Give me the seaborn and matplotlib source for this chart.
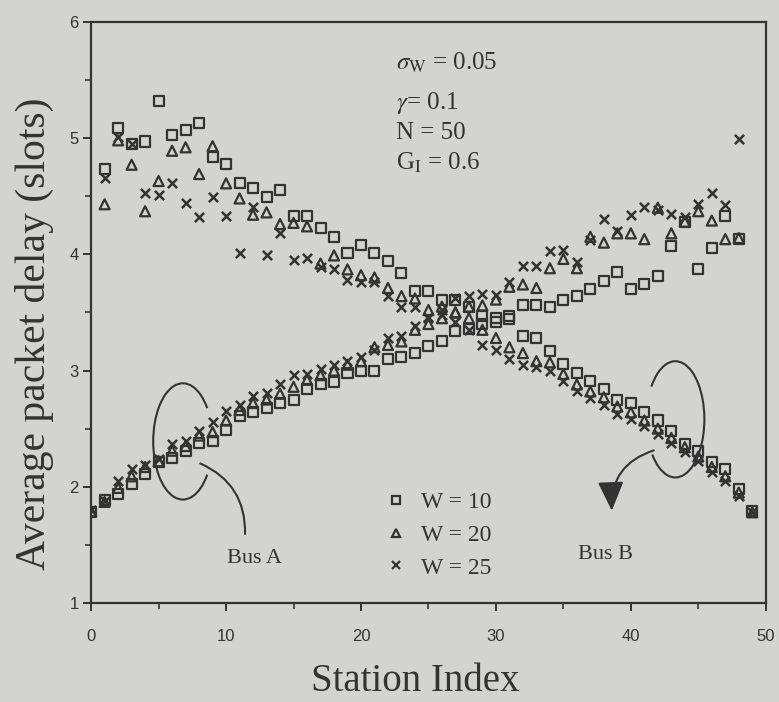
import pandas as pd
import seaborn as sns
import matplotlib.pyplot as plt
from matplotlib.patches import Arc, FancyArrowPatch
from matplotlib.lines import Line2D
from matplotlib.ticker import MultipleLocator

# station indices for the two buses
stations_a = list(range(0, 49))
stations_b = list(range(1, 50))

# Bus A (delay rising with station index)
a_w10 = [1.78, 1.89, 1.94, 2.02, 2.11, 2.21, 2.25, 2.31, 2.38, 2.39,
         2.49, 2.61, 2.64, 2.68, 2.72, 2.75, 2.84, 2.88, 2.90, 2.98,
         3.00, 3.00, 3.10, 3.12, 3.15, 3.21, 3.25, 3.34, 3.36, 3.40,
         3.42, 3.47, 3.56, 3.56, 3.55, 3.61, 3.64, 3.70, 3.77, 3.85,
         3.70, 3.74, 3.81, 4.07, 4.28, 3.87, 4.05, 4.33, 4.13]
a_w20 = [1.79, 1.87, 1.99, 2.09, 2.17, 2.22, 2.31, 2.35, 2.44, 2.47,
         2.57, 2.66, 2.72, 2.75, 2.80, 2.86, 2.92, 2.96, 3.00, 3.05,
         3.08, 3.20, 3.22, 3.25, 3.35, 3.40, 3.45, 3.50, 3.55, 3.56,
         3.61, 3.72, 3.74, 3.71, 3.88, 3.96, 3.88, 4.15, 4.10, 4.18,
         4.18, 4.13, 4.40, 4.18, 4.28, 4.37, 4.29, 4.13, 4.14]
a_w25 = [1.80, 1.88, 2.05, 2.15, 2.19, 2.24, 2.37, 2.39, 2.48, 2.56,
         2.65, 2.70, 2.78, 2.81, 2.88, 2.96, 2.97, 3.01, 3.05, 3.08,
         3.12, 3.18, 3.28, 3.30, 3.38, 3.45, 3.52, 3.62, 3.64, 3.66,
         3.65, 3.76, 3.90, 3.90, 4.03, 4.04, 3.93, 4.12, 4.30, 4.20,
         4.34, 4.41, 4.38, 4.35, 4.32, 4.43, 4.53, 4.42, 4.99]

# Bus B (delay falling with station index)
b_w10 = [4.73, 5.09, 4.95, 4.97, 5.32, 5.03, 5.07, 5.13, 4.84, 4.78,
         4.61, 4.57, 4.49, 4.55, 4.33, 4.33, 4.23, 4.15, 4.01, 4.08,
         4.01, 3.94, 3.84, 3.68, 3.68, 3.61, 3.61, 3.55, 3.47, 3.45,
         3.44, 3.30, 3.28, 3.17, 3.06, 2.98, 2.91, 2.84, 2.75, 2.72,
         2.64, 2.57, 2.48, 2.37, 2.31, 2.21, 2.15, 1.98, 1.79]
b_w20 = [4.43, 4.98, 4.77, 4.37, 4.63, 4.89, 4.92, 4.69, 4.93, 4.61,
         4.48, 4.34, 4.36, 4.26, 4.27, 4.24, 3.92, 3.99, 3.87, 3.82,
         3.80, 3.71, 3.64, 3.62, 3.52, 3.55, 3.50, 3.45, 3.35, 3.28,
         3.20, 3.15, 3.08, 3.07, 2.97, 2.88, 2.82, 2.77, 2.69, 2.64,
         2.57, 2.50, 2.42, 2.34, 2.26, 2.17, 2.09, 1.95, 1.78]
b_w25 = [4.66, 5.01, 4.95, 4.53, 4.51, 4.61, 4.44, 4.32, 4.49, 4.33,
         4.01, 4.41, 3.99, 4.18, 3.95, 3.97, 3.89, 3.87, 3.78, 3.76,
         3.76, 3.64, 3.55, 3.55, 3.46, 3.48, 3.42, 3.35, 3.22, 3.18,
         3.10, 3.05, 3.03, 3.00, 2.91, 2.82, 2.76, 2.70, 2.63, 2.58,
         2.52, 2.45, 2.38, 2.30, 2.22, 2.13, 2.05, 1.92, 1.78]

w_labels = ['W = 10', 'W = 20', 'W = 25']
params = [r'$\sigma_{\mathrm{W}}$ = 0.05', r'$\gamma$= 0.1',
          'N = 50', r'G$_{\mathrm{I}}$ = 0.6']

rows = []
for w, ya, yb in zip(w_labels, [a_w10, a_w20, a_w25], [b_w10, b_w20, b_w25]):
    rows += [(s, v, w, 'A') for s, v in zip(stations_a, ya)]
    rows += [(s, v, w, 'B') for s, v in zip(stations_b, yb)]
df = pd.DataFrame(rows, columns=['station', 'delay', 'W', 'bus'])

sns.set_theme(style='ticks')
plt.rcParams['font.family'] = ['Liberation Serif', 'DejaVu Serif']
plt.rcParams['mathtext.fontset'] = 'stix'

bg = '#d3d3d1'
ink = '#333333'

fig = plt.figure(figsize=(7.79, 7.02), dpi=100, facecolor=bg)
ax = fig.add_axes([0.117, 0.141, 0.866, 0.828])
ax.set_facecolor(bg)

markers = {'W = 10': 's', 'W = 20': '^', 'W = 25': 'x'}
for w in w_labels:
    sub = df[df['W'] == w]
    if markers[w] == 'x':
        sns.scatterplot(data=sub, x='station', y='delay', marker='x', s=44,
                        color=ink, linewidth=1.8, ax=ax, legend=False, zorder=3)
    else:
        sns.scatterplot(data=sub, x='station', y='delay', marker=markers[w], s=52,
                        facecolors='none', edgecolor=ink, linewidth=1.6,
                        ax=ax, legend=False, zorder=3)

ax.set_xlim(0, 50)
ax.set_ylim(1, 6)
ax.xaxis.set_major_locator(MultipleLocator(10))
ax.xaxis.set_minor_locator(MultipleLocator(5))
ax.yaxis.set_major_locator(MultipleLocator(1))
ax.yaxis.set_minor_locator(MultipleLocator(0.5))
ax.tick_params(which='major', direction='out', length=6, width=1.4, color=ink,
               labelsize=12, labelcolor=ink, labelfontfamily='Liberation Sans')
ax.tick_params(axis='x', which='major', pad=13)
ax.tick_params(axis='y', which='major', pad=3)
ax.tick_params(which='minor', direction='out', length=4, width=1.2, color=ink)
for sp in ax.spines.values():
    sp.set_linewidth(1.6)
    sp.set_color(ink)

ax.set_xlabel('Station Index', fontsize=28, color=ink)
ax.set_ylabel('Average packet delay (slots)', fontsize=30, color=ink)
ax.xaxis.set_label_coords(0.48, -0.104)
ax.yaxis.set_label_coords(-0.055, 0.463)

# parameter block
for txt, yv in zip(params, [5.65, 5.30, 5.04, 4.79]):
    ax.text(22.6, yv, txt, fontsize=18, color=ink, va='center', ha='left')

# legend
handles = [Line2D([], [], marker='s', ls='', mfc='none', mec=ink, mew=1.6, ms=6),
           Line2D([], [], marker='^', ls='', mfc='none', mec=ink, mew=1.6, ms=6),
           Line2D([], [], marker='x', ls='', color=ink, mew=1.6, ms=6)]
ax.legend(handles, w_labels, loc='center left', bbox_to_anchor=(0.435, 0.117),
          frameon=False, fontsize=17, handlelength=1.0, handletextpad=0.55,
          labelspacing=0.48, borderpad=0, borderaxespad=0, labelcolor=ink)

# Bus A annotation
ax.add_patch(Arc((6.8, 2.39), 4.4, 1.0, theta1=9, theta2=351, color=ink, lw=1.5))
ax.add_patch(FancyArrowPatch((7.9, 2.21), (11.4, 1.57), arrowstyle='-',
                             connectionstyle='arc3,rad=-0.35', color=ink, lw=1.5))
ax.text(12.1, 1.38, 'Bus A', fontsize=16, color=ink, ha='center', va='center')

# Bus B annotation
ax.add_patch(Arc((43.3, 2.58), 4.3, 1.0, theta1=190, theta2=171, color=ink, lw=1.5))
ax.add_patch(FancyArrowPatch((41.9, 2.32), (38.6, 1.77),
                             arrowstyle='-|>,head_length=0.9,head_width=0.4',
                             connectionstyle='arc3,rad=0.4', color=ink, lw=1.5,
                             mutation_scale=20))
ax.text(38.1, 1.42, 'Bus B', fontsize=16, color=ink, ha='center', va='center')

fig.savefig('out.png', dpi=100, facecolor=bg)
